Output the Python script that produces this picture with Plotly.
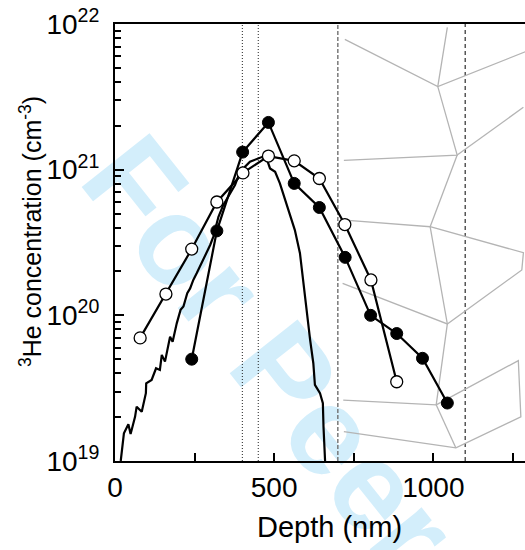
import plotly.graph_objects as go

# ---------------- data ----------------
# open circles (measured series A)
open_depth = [79, 160, 241, 320, 402, 482, 563, 642, 722, 804, 885]
open_conc = [7.0e19, 1.4e20, 2.85e20, 6.0e20, 9.5e20, 1.24e21, 1.15e21, 8.7e20, 4.2e20, 1.75e20, 3.5e19]

# filled circles (measured series B)
fill_depth = [241, 320, 401, 482, 563, 642, 723, 803, 885, 966, 1044]
fill_conc = [5.0e19, 3.8e20, 1.32e21, 2.11e21, 8.05e20, 5.5e20, 2.5e20, 1.0e20, 7.5e19, 5.07e19, 2.5e19]

# simulated implantation profile (solid line)
sim_depth = [18, 28, 42, 49, 63, 68, 84, 97, 98, 115, 129, 141, 147, 157, 173, 181,
             194, 206, 215, 227, 236, 246, 257, 272, 288, 299, 309, 325, 340, 361,
             377, 393, 424, 461, 477, 487, 496, 503, 518, 534, 550, 565, 581, 592,
             602, 613, 623, 628, 644, 653, 655, 660]
sim_conc = [1.0e19, 1.55e19, 1.79e19, 1.53e19, 2.01e19, 2.36e19, 2.18e19, 2.92e19,
            3.41e19, 3.60e19, 4.33e19, 4.22e19, 5.35e19, 4.81e19, 7.13e19, 6.59e19,
            8.81e19, 1.09e20, 1.15e20, 1.42e20, 1.53e20, 1.75e20, 1.95e20, 2.28e20,
            2.67e20, 3.04e20, 3.47e20, 4.75e20, 5.71e20, 6.89e20, 7.85e20, 9.68e20,
            1.135e21, 1.22e21, 1.18e21, 1.02e21, 9.95e20, 9.68e20, 8.05e20, 6.31e20,
            5.01e20, 3.85e20, 2.67e20, 1.66e20, 1.03e20, 6.78e19, 4.69e19, 3.33e19,
            2.92e19, 2.49e19, 1.72e19, 1.0e19]

# grain-boundary sketch (gray polylines, None separates pieces)
gb_depth = [722, 1014, 1290, None,
            1044, 1014, 1075, 719, None,
            1075, 1283, None,
            1075, 990, 722, None,
            990, 1283, 1278, 1044, 715, None,
            990, 1044, 1009, 717, None,
            1009, 1267, 1275, 1071, 719, None,
            1009, 1071]
gb_conc = [7.85e21, 3.72e21, 6.46e21, None,
           9.48e21, 3.72e21, 1.26e21, 1.16e21, None,
           1.26e21, 2.68e21, None,
           1.26e21, 4.06e20, 4.51e20, None,
           4.06e20, 2.69e20, 2.05e20, 8.73e19, 1.66e20, None,
           4.06e20, 8.73e19, 2.43e19, 2.62e19, None,
           2.43e19, 4.89e19, 2.01e19, 1.23e19, 1.59e19, None,
           2.43e19, 1.23e19]

# vertical reference depths
dotted_depths = [400, 450]
gray_dash_depths = [700]
black_dash_depths = [1100]

x_ticks = [0, 500, 1000]
x_tick_labels = ["0", "500", "1000"]
x_minor = [250, 750, 1250]
y_ticks = [1e19, 1e20, 1e21, 1e22]
y_tick_labels = ["10<sup>19</sup>", "10<sup>20</sup>", "10<sup>21</sup>", "10<sup>22</sup>"]
y_minor = [m * 10.0 ** e for e in (19, 20, 21) for m in range(2, 10)]

x_title = "Depth (nm)"
y_title = "<sup>3</sup>He concentration (cm<sup>-3</sup>)"
watermark = "For Peer"

FONT = "Liberation Sans, Arial, Helvetica, sans-serif"

fig = go.Figure()

fig.add_trace(go.Scatter(x=gb_depth, y=gb_conc, mode="lines",
                         line=dict(color="#b4b4b4", width=1.3),
                         connectgaps=False, hoverinfo="skip", showlegend=False))
fig.add_trace(go.Scatter(x=sim_depth, y=sim_conc, mode="lines",
                         line=dict(color="black", width=2.2), showlegend=False))
fig.add_trace(go.Scatter(x=fill_depth, y=fill_conc, mode="lines+markers",
                         line=dict(color="black", width=2.2),
                         marker=dict(symbol="circle", size=12, color="black",
                                     line=dict(color="black", width=1)),
                         showlegend=False))
fig.add_trace(go.Scatter(x=open_depth, y=open_conc, mode="lines+markers",
                         line=dict(color="black", width=2.2),
                         marker=dict(symbol="circle", size=12, color="white",
                                     line=dict(color="black", width=1.3)),
                         showlegend=False))

shapes = []
# watermark (drawn below everything)
shapes.append(dict(type="rect", xref="paper", yref="paper",
                   x0=0.398, x1=0.402, y0=0.261, y1=0.265,
                   line=dict(width=0), fillcolor="rgba(0,0,0,0)", layer="below",
                   label=dict(text=watermark, textangle=51.5,
                              textposition="middle center",
                              font=dict(family=FONT, size=126, color="#d3eefb",
                                        weight="bold"))))
for d in dotted_depths:
    shapes.append(dict(type="line", xref="x", yref="paper", x0=d, x1=d, y0=0, y1=1,
                       line=dict(color="#222222", width=1, dash="1px,2px"), layer="below"))
for d in gray_dash_depths:
    shapes.append(dict(type="line", xref="x", yref="paper", x0=d, x1=d, y0=0, y1=1,
                       line=dict(color="#707070", width=1.4, dash="4px,2px"), layer="below"))
for d in black_dash_depths:
    shapes.append(dict(type="line", xref="x", yref="paper", x0=d, x1=d, y0=0, y1=1,
                       line=dict(color="black", width=1, dash="4px,3px"), layer="below"))

annotations = [
    dict(text=x_title, xref="paper", yref="paper", x=0.523, y=-0.151,
         xanchor="center", yanchor="middle", showarrow=False,
         font=dict(family=FONT, size=29, color="black")),
    dict(text=y_title, xref="paper", yref="paper", x=-0.205, y=0.526,
         xanchor="center", yanchor="middle", showarrow=False, textangle=-90,
         font=dict(family=FONT, size=25, color="black")),
]

fig.update_layout(
    width=525, height=550,
    margin=dict(l=115, r=0, t=24, b=89, autoexpand=False),
    paper_bgcolor="white", plot_bgcolor="white",
    font=dict(family=FONT, size=28, color="black"),
    shapes=shapes,
    annotations=annotations,
    showlegend=False,
)

fig.update_xaxes(
    range=[0, 1288], showgrid=False, zeroline=False,
    showline=True, linecolor="black", linewidth=2, mirror=True,
    ticks="inside", ticklen=8, tickwidth=1.5, tickcolor="black",
    tickmode="array", tickvals=x_ticks, ticktext=x_tick_labels,
    tickfont=dict(size=28),
    minor=dict(tickmode="array", tickvals=x_minor, ticks="inside", ticklen=8,
               tickwidth=1.5, tickcolor="black", showgrid=False),
    automargin=False,
)
fig.update_yaxes(
    type="log", range=[19, 22], showgrid=False, zeroline=False,
    showline=True, linecolor="black", linewidth=2, mirror=False,
    ticks="inside", ticklen=9, tickwidth=1.5, tickcolor="black",
    tickmode="array", tickvals=y_ticks, ticktext=y_tick_labels,
    tickfont=dict(size=28), ticklabelstandoff=8,
    minor=dict(tickmode="array", tickvals=y_minor, ticks="inside", ticklen=6,
               tickwidth=1.5, tickcolor="black", showgrid=False),
    automargin=False,
)

fig.write_html("out.html", config={"displayModeBar": False},
               post_script="document.body.style.margin='0px';")
